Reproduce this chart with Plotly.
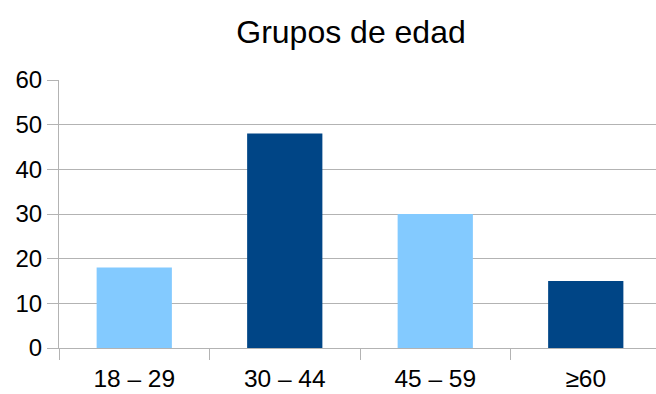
import plotly.graph_objects as go

categories = ["18 – 29", "30 – 44", "45 – 59", "≥60"]
values = [18, 48, 30, 15]
colors = ["#83CAFF", "#004586", "#83CAFF", "#004586"]
y_ticks = [0, 10, 20, 30, 40, 50, 60]

W, H = 656, 394
L, R, T, B = 59, 0, 80, 46
cat_px = 150.5
plot_w = W - L - R

fig = go.Figure(go.Bar(x=categories, y=values, marker=dict(color=colors, line=dict(width=0)), width=0.5))

grid = "#b3b3b3"
fig.update_layout(
    width=W, height=H,
    margin=dict(l=L, r=R, t=T, b=B, pad=0),
    paper_bgcolor="white", plot_bgcolor="white",
    font=dict(family="Liberation Sans, Arial, sans-serif", color="black", size=24),
    title=dict(text="Grupos de edad", font=dict(size=32, color="black"),
               x=351 / W, xanchor="center", xref="container",
               y=1 - 43 / H, yanchor="bottom", yref="container", pad=dict(b=0, t=0)),
    showlegend=False,
    bargap=0.5,
)
fig.update_xaxes(
    type="category", range=[-0.5, -0.5 + plot_w / cat_px],
    tickson="boundaries", ticks="outside", ticklen=11, tickcolor=grid, tickwidth=1,
    showline=True, linecolor=grid, linewidth=1, showgrid=False, zeroline=False,
    tickfont=dict(size=24.5), ticklabelstandoff=9,
)
fig.update_yaxes(
    range=[0, 60], tickvals=y_ticks, ticks="outside", ticklen=11, tickcolor=grid, tickwidth=1,
    showline=True, linecolor=grid, linewidth=1, showgrid=True, gridcolor=grid, gridwidth=1,
    zeroline=False, tickfont=dict(size=24),
)
fig.write_html("out.html")
